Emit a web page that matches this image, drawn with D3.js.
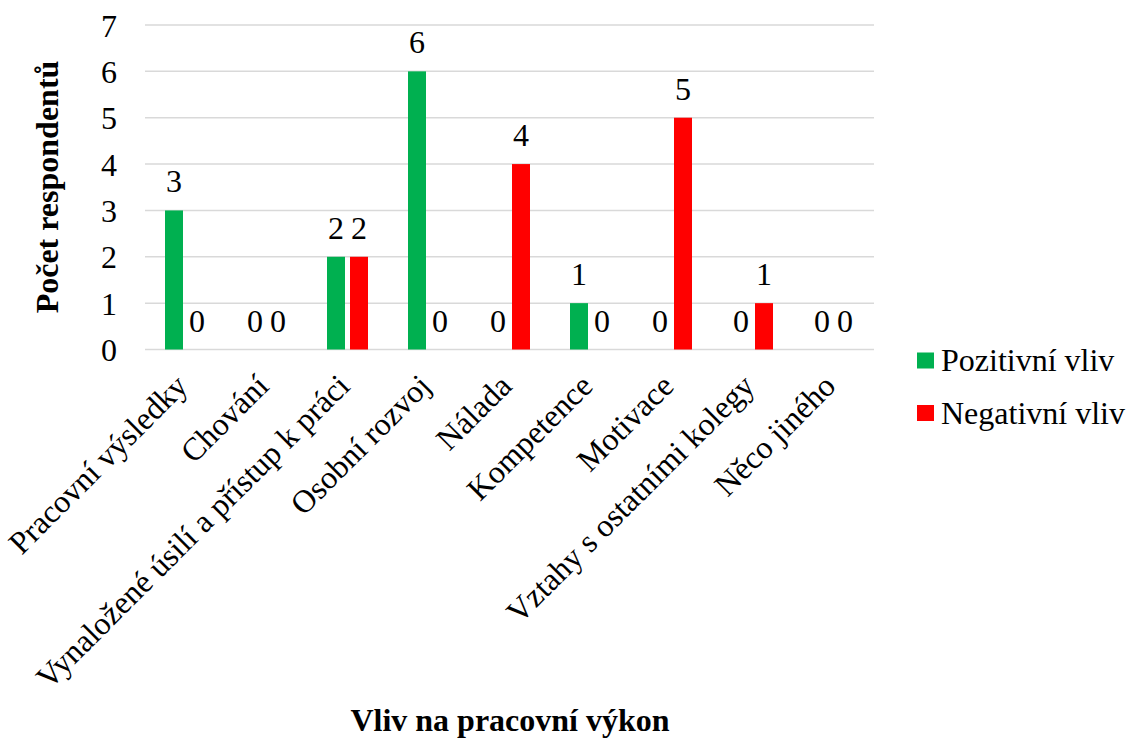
<!DOCTYPE html>
<html>
<head>
<meta charset="utf-8">
<script src="https://cdn.jsdelivr.net/npm/d3@7/dist/d3.min.js"></script>
<style>
  html, body { margin: 0; padding: 0; background: #fff; }
</style>
</head>
<body>
<svg id="chart" width="1128" height="745"></svg>
<script>
// Categories and values per series
const categories = [
  "Pracovní výsledky",
  "Chování",
  "Vynaložené úsilí a přístup k práci",
  "Osobní rozvoj",
  "Nálada",
  "Kompetence",
  "Motivace",
  "Vztahy s ostatními kolegy",
  "Něco jiného"
];
const positive = [3, 0, 2, 6, 0, 1, 0, 0, 0];
const negative = [0, 0, 2, 0, 4, 0, 5, 1, 0];
const seriesNames = ["Pozitivní vliv", "Negativní vliv"];
const seriesColors = ["#00b050", "#ff0000"];
const yTicks = [0, 1, 2, 3, 4, 5, 6, 7];

const FONT = "'Liberation Serif', 'Times New Roman', serif";
const FS = 32;

const svg = d3.select("#chart").attr("font-family", FONT);

const plot = { left: 145, right: 874, top: 25, bottom: 349.5 };

const x = d3.scaleBand().domain(categories).range([plot.left, plot.right]);
const y = d3.scaleLinear().domain([0, 7]).range([plot.bottom, plot.top]);

const barW = 18, gap = 5;

// Gridlines
svg.append("g")
  .selectAll("line")
  .data(yTicks)
  .join("line")
  .attr("x1", plot.left).attr("x2", plot.right)
  .attr("y1", d => y(d)).attr("y2", d => y(d))
  .attr("stroke", "#d9d9d9").attr("stroke-width", 1.5);

// Y tick labels
svg.append("g")
  .selectAll("text")
  .data(yTicks)
  .join("text")
  .attr("font-family", FONT)
  .attr("x", 117).attr("y", d => y(d) + 11.5)
  .attr("text-anchor", "end")
  .attr("font-size", FS)
  .text(d => d);

// Bars and value labels for both series
const series = [positive, negative];
series.forEach((vals, si) => {
  const offset = si === 0 ? -gap / 2 - barW : gap / 2;
  const rows = vals.map((v, i) => ({ v, c: categories[i] }));
  const g = svg.append("g");
  g.selectAll("rect")
    .data(rows)
    .join("rect")
    .attr("x", d => x(d.c) + x.bandwidth() / 2 + offset)
    .attr("width", barW)
    .attr("y", d => y(d.v))
    .attr("height", d => y(0) - y(d.v))
    .attr("fill", seriesColors[si]);
  g.selectAll("text")
    .data(rows)
    .join("text")
    .attr("font-family", FONT)
    .attr("x", d => x(d.c) + x.bandwidth() / 2 + offset + barW / 2)
    .attr("y", d => y(d.v) - 18)
    .attr("text-anchor", "middle")
    .attr("font-size", FS)
    .text(d => d.v);
});

// Category labels, rotated 45 degrees
svg.append("g")
  .selectAll("text")
  .data(categories)
  .join("text")
  .attr("font-family", FONT)
  .attr("text-anchor", "end")
  .attr("font-size", FS)
  .attr("transform", d => `translate(${x(d) + x.bandwidth() / 2 - 4},${380}) rotate(-45)`)
  .attr("dy", "0.35em")
  .text(d => d);

// Axis titles
svg.append("text")
  .attr("font-family", FONT)
  .attr("transform", `translate(58,187) rotate(-90)`)
  .attr("text-anchor", "middle")
  .attr("font-size", FS)
  .attr("font-weight", "bold")
  .text("Počet respondentů");

svg.append("text")
  .attr("font-family", FONT)
  .attr("x", 510).attr("y", 731)
  .attr("text-anchor", "middle")
  .attr("font-size", FS)
  .attr("font-weight", "bold")
  .text("Vliv na pracovní výkon");

// Legend
const legend = svg.append("g");
seriesNames.forEach((name, i) => {
  const ly = 352.5 + i * 52.5;
  legend.append("rect")
    .attr("x", 917).attr("y", ly).attr("width", 17).attr("height", 16)
    .attr("fill", seriesColors[i]);
  legend.append("text")
    .attr("font-family", FONT)
    .attr("x", 941).attr("y", ly + 18.5)
    .attr("font-size", FS)
    .text(name);
});
</script>
</body>
</html>
